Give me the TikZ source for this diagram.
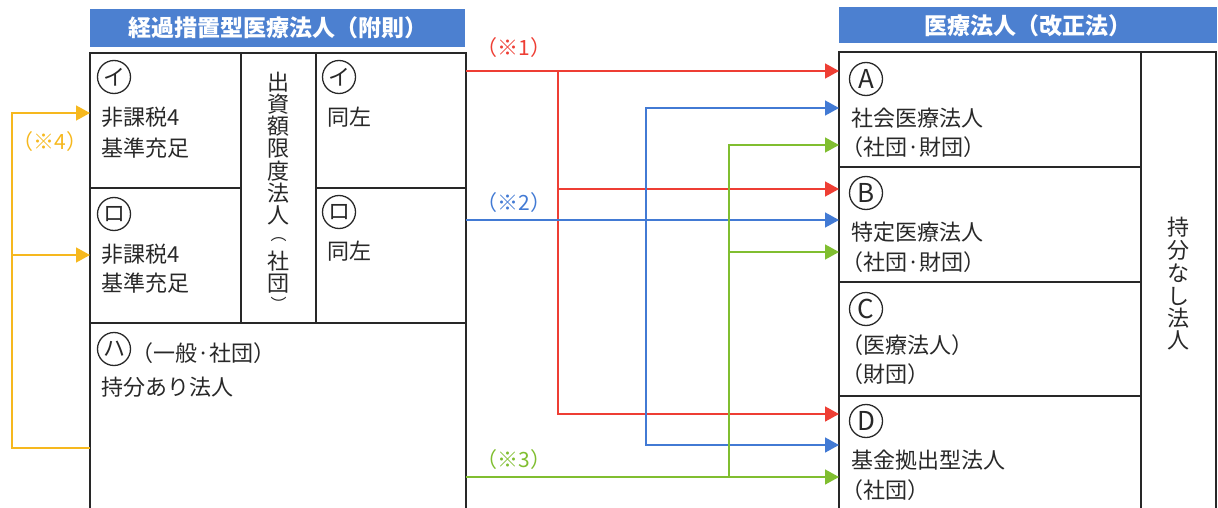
\documentclass[tikz,border=0pt]{standalone}
\usepackage{fontspec}
\setmainfont{Noto Sans CJK JP}
\usetikzlibrary{arrows.meta}
\definecolor{hdrblue}{RGB}{76,128,208}
\definecolor{redA}{RGB}{238,62,52}
\definecolor{blueA}{RGB}{66,122,212}
\definecolor{greenA}{RGB}{128,190,48}
\definecolor{yelA}{RGB}{246,184,30}
\definecolor{ink}{RGB}{40,40,40}
\begin{document}
\begin{tikzpicture}[x=1pt,y=-1pt,
  frame/.style={draw=ink, line width=1.4pt},
  hdr/.style={fill=hdrblue, text=white, inner sep=0, font=\fontsize{23}{26}\selectfont\bfseries},
  txt/.style={anchor=west, inner sep=0, text=ink, font=\fontsize{22}{26}\selectfont},
  circ/.style={circle, draw=ink, line width=1.3pt, inner sep=0, minimum size=33pt, text=ink, font=\fontsize{22}{24}\selectfont},
  circl/.style={circ, font=\fontsize{26}{28}\selectfont},
  vch/.style={inner sep=0, text=ink, font=\fontsize{22}{24}\selectfont},
  vpar/.style={inner sep=0, text=ink, font=\fontsize{16}{18}\selectfont},
  lbl/.style={inner sep=0, font=\fontsize{21}{24}\selectfont},
  wire/.style={line width=1.6pt},
  tip/.style={-{Triangle[length=14pt,width=15pt]}},
  stip/.style={{Triangle[length=14pt,width=15pt]}-},
  tips/.style={{Triangle[length=14pt,width=15pt]}-{Triangle[length=14pt,width=15pt]}}
]
\useasboundingbox (0,0) rectangle (1218,508);

% ---------- headers ----------
\node[hdr, minimum width=375pt, minimum height=38pt] (Lhdr) at (277.5,28) {経過措置型医療法人（附則）};
\node[hdr, minimum width=378pt, minimum height=36pt] (Rhdr) at (1028,25.5) {医療法人（改正法）};

% ---------- left frame ----------
\draw[frame] (90,508) -- (90,53) -- (466,53) -- (466,508);
\draw[frame] (241,53) -- (241,323);
\draw[frame] (316,53) -- (316,323);
\draw[frame] (90,188) -- (241,188);
\draw[frame] (316,188) -- (466,188);
\draw[frame] (90,323) -- (466,323);

% ---------- right frame ----------
\draw[frame] (839,508) -- (839,52) -- (1216,52) -- (1216,508);
\draw[frame] (1141,52) -- (1141,508);
\draw[frame] (839,167) -- (1141,167);
\draw[frame] (839,282) -- (1141,282);
\draw[frame] (839,396) -- (1141,396);

% ---------- left texts ----------
\node[circ] (ci1) at (114,77) {イ};
\node[txt] (t1a) at (101,117) {非課税4};
\node[txt] (t1b) at (101,148) {基準充足};
\node[circ] (ci2) at (339,77) {イ};
\node[txt] (t2) at (327,117) {同左};
\node[circ] (cr1) at (114,214) {ロ};
\node[txt] (t3a) at (101,254) {非課税4};
\node[txt] (t3b) at (101,283) {基準充足};
\node[circ] (cr2) at (339,212) {ロ};
\node[txt] (t4) at (327,251) {同左};
\node[circ] (ch) at (114,349) {ハ};
\node[txt] (t5a) at (131,353) {（一般·社団）};
\node[txt] (t5b) at (101,387) {持分あり法人};

% vertical text
\foreach \c/\yy [count=\i] in {出/82,資/104.3,額/126.6,限/148.9,度/171.2,法/193.5,人/215.8,社/261,団/283.3}
  \node[vch] (vl\i) at (278.5,\yy) {\c};
\node[vpar] (vlp1) at (278.5,240) {︵};
\node[vpar] (vlp2) at (278.5,304) {︶};
\foreach \c/\yy [count=\i] in {持/227,分/250,な/273,し/296,法/318,人/340}
  \node[vch] (vr\i) at (1178,\yy) {\c};

% ---------- right texts ----------
\node[circl] (cA) at (866,79) {A};
\node[txt] (tA1) at (851,118) {社会医療法人};
\node[txt] (tA2) at (841,147) {（社団·財団）};
\node[circl] (cB) at (866,193) {B};
\node[txt] (tB1) at (851,232) {特定医療法人};
\node[txt] (tB2) at (841,262) {（社団·財団）};
\node[circl] (cC) at (866,309) {C};
\node[txt] (tC1) at (841,345) {（医療法人）};
\node[txt] (tC2) at (841,374) {（財団）};
\node[circl] (cD) at (866,421) {D};
\node[txt] (tD1) at (851,460) {基金拠出型法人};
\node[txt] (tD2) at (841,490) {（社団）};

% ---------- connector points ----------
\coordinate (rS) at (466,71);  \coordinate (rA) at (839,71);
\coordinate (rJ) at (558,71);  \coordinate (rJb) at (558,189); \coordinate (rJd) at (558,414);
\coordinate (rB) at (839,189); \coordinate (rD) at (839,414);
\coordinate (bS) at (466,220); \coordinate (bB) at (839,220);
\coordinate (bJa) at (646,108); \coordinate (bJd) at (646,445);
\coordinate (bA) at (839,108); \coordinate (bD) at (839,445);
\coordinate (gS) at (466,477); \coordinate (gD) at (839,477);
\coordinate (gJa) at (729,145); \coordinate (gJb) at (729,252); \coordinate (gJd) at (729,477);
\coordinate (gA) at (839,145); \coordinate (gB) at (839,252);
\coordinate (yS) at (90,448); \coordinate (yC) at (12,448);
\coordinate (yT) at (12,113); \coordinate (yJ) at (12,255);
\coordinate (yI) at (90,113); \coordinate (yR) at (90,255);

% red
\draw[wire, redA, tip] (rS) -- (rA);
\draw[wire, redA, tip] (rJ) -- (rJd) -- (rD);
\draw[wire, redA, tip] (rJb) -- (rB);
% blue
\draw[wire, blueA, tip] (bS) -- (bB);
\draw[wire, blueA, tips] (bA) -- (bJa) -- (bJd) -- (bD);
% green
\draw[wire, greenA, tip] (gS) -- (gD);
\draw[wire, greenA, stip] (gA) -- (gJa) -- (gJd);
\draw[wire, greenA, tip] (gJb) -- (gB);
% yellow
\draw[wire, yelA, tip] (yS) -- (yC) -- (yT) -- (yI);
\draw[wire, yelA, tip] (yJ) -- (yR);

% labels
\node[lbl, text=redA] (l1) at (514,48) {（※1）};
\node[lbl, text=blueA] (l2) at (514,203) {（※2）};
\node[lbl, text=greenA] (l3) at (514,460) {（※3）};
\node[lbl, text=yelA] (l4) at (50,142) {（※4）};
\end{tikzpicture}
\end{document}
